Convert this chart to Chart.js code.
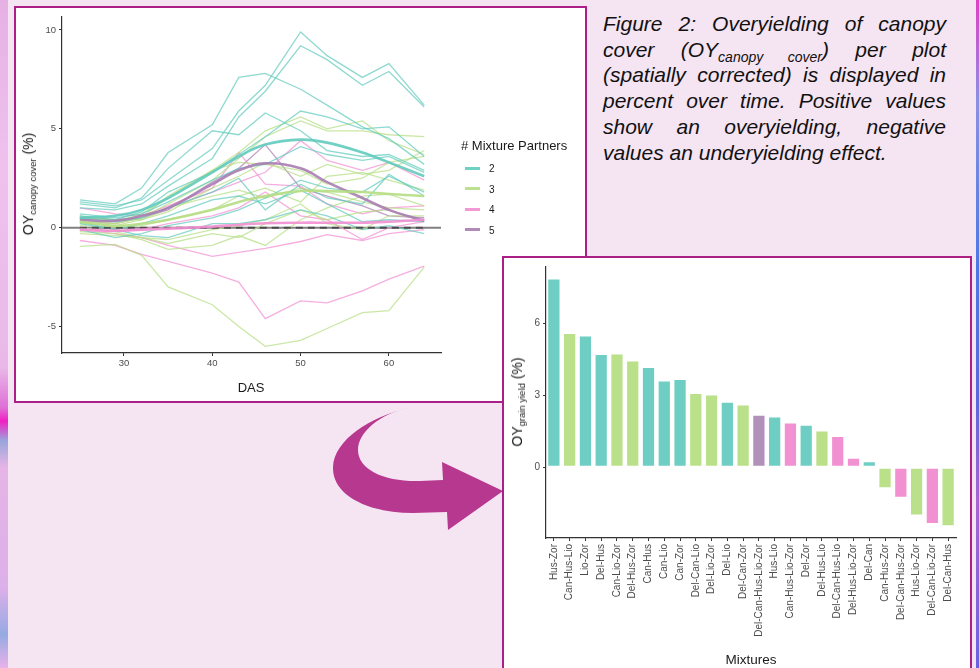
<!DOCTYPE html>
<html>
<head>
<meta charset="utf-8">
<script src="https://cdn.jsdelivr.net/npm/chart.js@4.4.0/dist/chart.umd.min.js"></script>
<style>
  body { margin: 0; width: 979px; height: 668px; overflow: hidden; position: relative;
         background: #f5e4f1; font-family: "Liberation Sans", Arial, sans-serif; }
  .edge-left { position: absolute; left: 0; top: 0; width: 8px; height: 668px;
    background: linear-gradient(180deg, #e6b0e4 0%, #efc2ee 25%, #e9b8e8 55%, #e070d6 61%, #f020c4 63%, #9aa6dc 66%, #e6b4e6 70%, #dcb0ea 88%, #96aae2 95%, #e8b2ea 100%); }
  .edge-right { position: absolute; left: 976px; top: 0; width: 3px; height: 668px;
    background: linear-gradient(180deg, #e040c4 0%, #8c90e2 15%, #4a78e4 40%, #5a66dc 60%, #a864d2 75%, #6a62e2 100%); }
  .panel { position: absolute; background: #fff; border: 2px solid #ab1f86; box-sizing: border-box; }
  .panel canvas { position: absolute; left: 0; top: 0; }
  .lbl { position: absolute; white-space: nowrap; color: #1a1a1a; }
  .rot { transform: translate(-50%, -50%) rotate(-90deg); }
  .rot sub { font-size: 9.5px; vertical-align: -3px; line-height: 0; }
  .key { position: absolute; width: 15px; height: 3px; }
  .caption { position: absolute; left: 603px; top: 11px; width: 343px; font-style: italic;
             font-size: 21px; line-height: 25.7px; color: #111; }
  .caption div { text-align: justify; text-align-last: justify; white-space: nowrap; }
  .caption div.last { text-align-last: left; }
  .caption sub { font-size: 14px; vertical-align: -5px; line-height: 0; }
</style>
</head>
<body>
<div class="edge-left"></div>
<div class="edge-right"></div>

<div class="panel" style="left:14px; top:6px; width:573px; height:397px;">
  <canvas id="canopyChart" width="569" height="393"></canvas>
</div>

<div class="lbl rot" style="left:28px; top:184px; font-size:14px;">OY<sub>canopy cover</sub> (%)</div>
<div class="lbl" style="left:251px; top:387px; font-size:13px; transform: translate(-50%,-50%);">DAS</div>
<div class="lbl" style="left:461px; top:145px; font-size:13px; transform: translateY(-50%);"># Mixture Partners</div>
<div id="legendItems"></div>

<div class="caption">
  <div>Figure 2: Overyielding of canopy</div>
  <div>cover (OY<sub>canopy cover</sub>) per plot</div>
  <div>(spatially corrected) is displayed in</div>
  <div>percent over time. Positive values</div>
  <div>show an overyielding, negative</div>
  <div class="last">values an underyielding effect.</div>
</div>

<svg style="position:absolute; left:0; top:0;" width="979" height="668">
  <path d="M 408 408 C 370 417, 334 440, 333 467 C 332 495, 368 513, 413 513 L 447 512 L 448 530 L 503 491 L 442 462 L 443 480 L 420 481 C 385 482, 358 470, 358 450 C 358 432, 380 414, 408 408 Z" fill="#b7388f"/>
</svg>

<div class="panel" style="left:502px; top:256px; width:470px; height:430px;">
  <canvas id="grainChart" width="466" height="410"></canvas>
</div>

<div class="lbl rot" style="left:517px; top:402px; font-size:14px;">OY<sub>grain yield</sub> (%)</div>
<div class="lbl" style="left:751px; top:659px; font-size:13.5px; transform: translate(-50%,-50%);">Mixtures</div>

<script>
// --- data: canopy cover over time ---
const das = [25, 29, 32, 35, 40, 43, 46, 50, 53, 57, 60, 64];
const dasTicks = [30, 40, 50, 60];
const canopyTicks = [-5, 0, 5, 10];

// one row per plot, grouped by number of mixture partners
const plots2 = [
  [1.3, 1.1, 1.4, 2.4, 4.0, 5.9, 7.2, 9.9, 8.7, 7.6, 8.3, 6.2],
  [1.0, 0.9, 1.2, 2.1, 3.5, 5.6, 6.9, 9.2, 8.5, 7.2, 7.9, 6.1],
  [1.4, 1.2, 2.0, 3.8, 5.2, 7.6, 7.8, 7.0, 6.2, 5.1, 4.5, 3.2],
  [1.2, 1.0, 1.5, 3.0, 4.9, 4.7, 5.8, 4.9, 3.9, 3.6, 3.7, 2.9],
  [0.6, 0.4, 0.8, 1.8, 2.8, 3.7, 4.6, 5.9, 5.6, 5.0, 5.1, 3.6],
  [0.5, 0.3, 0.5, 1.0, 1.8, 2.5, 0.9, 2.2, 1.5, 1.2, 2.7, 1.6],
  [0.2, -0.1, 0.2, 0.6, 1.4, 1.6, 1.2, 1.9, 1.2, 0.3, 0.4, 0.3],
  [-0.1, -0.5, -0.3, 0.1, 0.5, 0.9, 1.5, 2.4, 2.0, 1.8, 2.6, 1.8],
  [0.3, -0.1, -0.4, -0.5, 0.2, 0.2, 0.4, 0.9, 0.6, -0.1, 0.1, -0.3],
  [0.7, 0.5, 0.7, 1.3, 2.4, 3.0, 3.2, 4.1, 3.7, 3.4, 3.6, 2.8],
];
const plots3 = [
  [0.6, 0.3, 0.7, 1.5, 2.9, 3.8, 4.9, 5.6, 5.0, 5.4, 4.4, 3.7],
  [0.4, 0.2, 0.5, 1.2, 2.4, 3.5, 4.6, 5.4, 4.9, 4.9, 4.7, 4.6],
  [0.2, 0.1, 0.4, 0.8, 2.0, 2.6, 3.3, 2.6, 3.2, 2.7, 2.9, 3.9],
  [0.1, 0.0, 0.1, 0.4, 0.9, 1.6, 2.0, 1.3, 2.6, 2.8, 2.4, 1.9],
  [-0.2, -0.3, -0.6, -1.1, -0.9, -0.4, -0.9, 0.4, 1.0, 1.6, 1.7, 1.1],
  [-0.95, -0.85, -1.4, -3.0, -3.9, -5.0, -6.0, -5.7, -5.1, -4.3, -4.2, -2.0],
  [0.0, -0.2, -0.5, -0.6, -0.1, 0.1, 0.4, 1.2, 0.2, -0.1, 0.6, 0.6],
  [0.5, 0.4, 0.4, 1.0, 1.6, 1.9, 1.5, 2.0, 1.8, 1.3, 1.0, 0.9],
  [0.3, 0.2, 0.5, 1.6, 2.9, 3.3, 3.2, 2.9, 2.2, 2.5, 3.3, 3.6],
  [-0.3, -0.4, -0.5, -0.8, -0.3, -0.5, 0.2, 0.9, 0.4, 0.8, 0.9, 0.3],
];
const plots4 = [
  [-0.65, -0.9, -1.35, -1.7, -2.3, -2.75, -4.6, -3.7, -3.8, -3.2, -2.6, -1.95],
  [-0.1, -0.3, -0.5, -0.9, -1.45, -1.25, -1.05, -0.7, -0.35, -0.65, -0.3, -0.1],
  [0.3, 0.2, 0.5, 1.0, 1.8, 2.3, 2.8, 4.4, 3.4, 2.9, 3.3, 2.4],
  [1.0, 0.7, 0.6, 1.1, 2.0, 3.8, 2.2, 2.1, 1.2, 0.7, 1.0, 1.1],
  [0.0, -0.2, -0.1, 0.2, 0.6, 1.0, 1.8, 0.6, 0.4, -0.6, 0.0, 0.3],
];
const plots5 = [
  [0.5, 0.4, 0.5, 0.9, 2.3, 3.0, 4.2, 2.0, 1.6, 1.1, 0.6, 0.5],
];

// smoothed trend per group
const trend2 = [0.5, 0.6, 0.9, 1.5, 2.8, 3.6, 4.2, 4.45, 4.3, 3.8, 3.3, 2.6];
const trend3 = [0.3, 0.1, 0.2, 0.4, 0.9, 1.3, 1.6, 1.85, 1.85, 1.8, 1.7, 1.6];
const trend4 = [-0.1, -0.15, -0.1, -0.05, 0.05, 0.15, 0.22, 0.25, 0.25, 0.25, 0.3, 0.4];
const trend5 = [0.4, 0.35, 0.6, 1.0, 2.2, 2.9, 3.25, 3.0, 2.3, 1.5, 0.9, 0.35];
const zeroRef = [0, 0, 0, 0, 0, 0, 0, 0, 0, 0, 0, 0];

// --- data: grain yield overyielding per mixture ---
const mixtures = ["Hus-Zor", "Can-Hus-Lio", "Lio-Zor", "Del-Hus", "Can-Lio-Zor", "Del-Hus-Zor",
  "Can-Hus", "Can-Lio", "Can-Zor", "Del-Can-Lio", "Del-Lio-Zor", "Del-Lio", "Del-Can-Zor",
  "Del-Can-Hus-Lio-Zor", "Hus-Lio", "Can-Hus-Lio-Zor", "Del-Zor", "Del-Hus-Lio", "Del-Can-Hus-Lio",
  "Del-Hus-Lio-Zor", "Del-Can", "Can-Hus-Zor", "Del-Can-Hus-Zor", "Hus-Lio-Zor", "Del-Can-Lio-Zor",
  "Del-Can-Hus"];
const oyGrain = [7.86, 5.59, 5.49, 4.72, 4.74, 4.44, 4.17, 3.61, 3.67, 3.09, 3.03, 2.73, 2.61,
  2.18, 2.11, 1.86, 1.77, 1.53, 1.30, 0.39, 0.25, -0.88, -1.27, -2.01, -2.37, -2.46];
const grainTicks = [0, 3, 6];
const partnerGroups = ["2", "3", "4", "5"];

// färger per antal partners
const lineColors = { 2: "98,203,190", 3: "182,222,132", 4: "242,143,210", 5: "169,125,179" };
const barColors = { 2: "#6ecec3", 3: "#bae08a", 4: "#f291d2", 5: "#b190b9" };

Chart.defaults.font.family = "'Liberation Sans', Arial, sans-serif";

const toPoints = (values) => values.map((v, i) => ({ x: das[i], y: v }));

/**
 * Linjediagram: OY canopy cover över tid
 */
function renderCanopyChart() {
  const datasets = [];
  const groups = { 2: plots2, 3: plots3, 4: plots4, 5: plots5 };
  Object.keys(groups).forEach((k) => {
    groups[k].forEach((row) => {
      datasets.push({
        data: toPoints(row),
        borderColor: `rgba(${lineColors[k]},0.72)`,
        borderWidth: 1.3,
        order: 2,
      });
    });
  });
  datasets.push({
    data: toPoints(zeroRef),
    borderColor: "rgba(60,60,60,0.8)",
    borderWidth: 2,
    borderDash: [7, 5],
    order: 1,
  });
  [[2, trend2], [3, trend3], [4, trend4], [5, trend5]].forEach(([k, row]) => {
    datasets.push({
      data: toPoints(row),
      borderColor: `rgba(${lineColors[k]},0.9)`,
      borderWidth: 2.6,
      tension: 0.4,
      order: 0,
    });
  });

  const zeroLine = {
    id: "zeroLine",
    beforeDatasetsDraw(chart) {
      const { ctx, chartArea, scales } = chart;
      const y = scales.y.getPixelForValue(0);
      ctx.save();
      ctx.strokeStyle = "#808080";
      ctx.lineWidth = 2;
      ctx.beginPath();
      ctx.moveTo(chartArea.left, y);
      ctx.lineTo(chartArea.right, y);
      ctx.stroke();
      ctx.restore();
    },
  };

  const ctx = document.getElementById("canopyChart").getContext("2d");
  new Chart(ctx, {
    type: "line",
    data: { datasets },
    plugins: [zeroLine],
    options: {
      responsive: false,
      animation: false,
      layout: { padding: { top: 7, right: 144, left: 0, bottom: 0 } },
      elements: { point: { radius: 0 }, line: { tension: 0 } },
      plugins: { legend: { display: false }, tooltip: { enabled: false } },
      scales: {
        x: {
          type: "linear",
          min: 22.98,
          max: 65.9,
          afterFit: (s) => { s.height = 48; },
          afterBuildTicks: (s) => { s.ticks = dasTicks.map((v) => ({ value: v })); },
          grid: { drawOnChartArea: false, tickLength: 3, color: "#333" },
          border: { color: "#333", width: 1.2 },
          ticks: { color: "#4d4d4d", font: { size: 9.5 }, padding: 2 },
        },
        y: {
          min: -6.34,
          max: 10.67,
          afterFit: (s) => { s.width = 46; },
          afterBuildTicks: (s) => { s.ticks = canopyTicks.map((v) => ({ value: v })); },
          grid: { drawOnChartArea: false, tickLength: 3, color: "#333" },
          border: { color: "#333", width: 1.2 },
          ticks: { color: "#4d4d4d", font: { size: 9.5 }, padding: 3 },
        },
      },
    },
  });
}

/**
 * Legend för antal partners
 */
function renderLegend() {
  const box = document.getElementById("legendItems");
  partnerGroups.forEach((g, i) => {
    const y = 168 + i * 20.5;
    const key = document.createElement("div");
    key.className = "key";
    key.style.left = "465px";
    key.style.top = (y - 1.5) + "px";
    key.style.background = `rgba(${lineColors[g]},0.9)`;
    box.appendChild(key);
    const lbl = document.createElement("div");
    lbl.className = "lbl";
    lbl.style.left = "489px";
    lbl.style.top = y + "px";
    lbl.style.fontSize = "10px";
    lbl.style.transform = "translateY(-50%)";
    lbl.textContent = g;
    box.appendChild(lbl);
  });
}

/**
 * Stapeldiagram: OY grain yield per blandning
 */
function renderGrainChart() {
  const colors = mixtures.map((m) => barColors[m.split("-").length]);
  const ctx = document.getElementById("grainChart").getContext("2d");
  new Chart(ctx, {
    type: "bar",
    data: {
      labels: mixtures,
      datasets: [
        {
          data: oyGrain,
          backgroundColor: colors,
          borderColor: "rgba(255,255,255,0.7)",
          borderWidth: 1,
          borderSkipped: false,
          barPercentage: 0.84,
          categoryPercentage: 1,
        },
      ],
    },
    options: {
      responsive: false,
      animation: false,
      layout: { padding: { top: 7, right: 14, left: 0, bottom: 0 } },
      plugins: { legend: { display: false }, tooltip: { enabled: false } },
      scales: {
        x: {
          afterFit: (s) => { s.height = 130; },
          grid: { drawOnChartArea: false, offset: false, tickLength: 3, color: "#333" },
          border: { color: "#333", width: 1.2 },
          ticks: { color: "#4d4d4d", font: { size: 10 }, minRotation: 90, maxRotation: 90, autoSkip: false, padding: 3 },
        },
        y: {
          min: -2.95,
          max: 8.34,
          afterFit: (s) => { s.width = 42; },
          afterBuildTicks: (s) => { s.ticks = grainTicks.map((v) => ({ value: v })); },
          grid: { drawOnChartArea: false, tickLength: 3, color: "#333" },
          border: { color: "#333", width: 1.2 },
          ticks: { color: "#4d4d4d", font: { size: 10 }, padding: 3 },
        },
      },
    },
  });
}

// kör funktionerna
renderCanopyChart();
renderLegend();
renderGrainChart();
</script>
</body>
</html>
